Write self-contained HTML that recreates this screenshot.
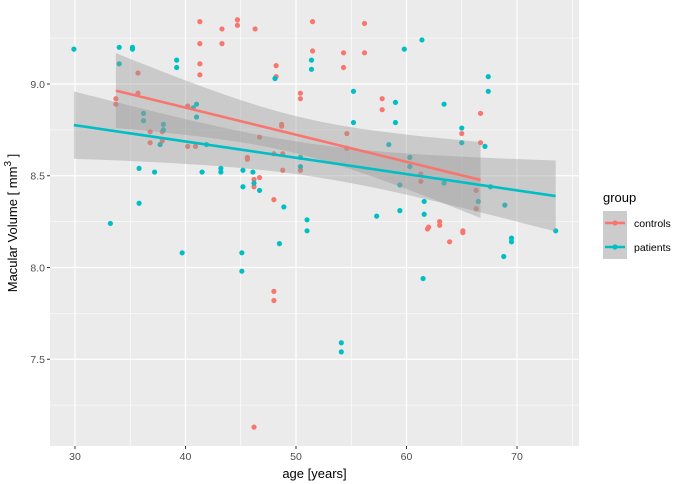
<!DOCTYPE html>
<html><head><meta charset="utf-8"><style>
body{margin:0;background:#fff;}
svg{display:block;font-family:"Liberation Sans",sans-serif;}
</style></head><body>
<svg id="chart" width="676" height="484"></svg>
<script>
const ctrlAge=[41.3,41.3,41.3,41.3,43.3,43.3,44.7,44.7,46.3,51.5,51.5,48.2,48.2,35.7,35.7,33.7,33.7,50.4,50.4,40.2,36.8,36.8,37.9,37.9,40.2,40.9,45.6,45.6,46.7,48.7,48.7,48.0,48.8,48.8,50.4,46.2,46.2,46.7,48.0,56.2,54.3,56.2,54.3,57.8,57.8,54.6,54.6,66.7,65.0,66.7,61.3,61.3,66.3,66.3,63.0,63.0,62.0,61.9,65.1,63.9,65.1,48.0,48.0,46.2];
const ctrlVol=[9.34,9.22,9.11,9.05,9.30,9.22,9.35,9.32,9.30,9.34,9.18,9.10,9.04,9.06,8.95,8.92,8.89,8.95,8.92,8.88,8.74,8.68,8.74,8.69,8.66,8.66,8.60,8.59,8.71,8.78,8.77,8.62,8.62,8.53,8.53,8.48,8.44,8.49,8.37,9.33,9.17,9.17,9.09,8.92,8.86,8.73,8.65,8.84,8.73,8.68,8.51,8.47,8.42,8.32,8.25,8.23,8.22,8.21,8.20,8.14,8.19,7.87,7.82,7.13];
const patAge=[29.9,34.0,34.0,35.2,35.2,39.2,39.2,48.1,51.4,51.4,36.2,36.2,38.0,38.0,37.7,40.7,41.0,41.0,41.9,50.4,50.4,35.8,37.2,41.5,43.2,43.2,45.2,46.1,45.2,46.2,46.7,35.8,48.9,33.2,51.0,51.0,61.4,59.8,67.4,67.4,55.2,59.0,63.4,55.2,59.0,65.0,65.0,67.1,58.4,60.3,60.3,63.4,59.4,67.6,61.6,66.5,68.9,59.4,61.6,57.3,73.5,69.5,69.5,68.8,39.7,45.1,45.1,48.5,61.5,54.1,54.1];
const patVol=[9.19,9.20,9.11,9.20,9.19,9.13,9.09,9.03,9.13,9.08,8.84,8.80,8.78,8.75,8.67,8.87,8.89,8.82,8.67,8.60,8.55,8.54,8.52,8.52,8.54,8.52,8.53,8.52,8.44,8.46,8.42,8.35,8.33,8.24,8.26,8.20,9.24,9.19,9.04,8.96,8.96,8.90,8.89,8.79,8.79,8.76,8.68,8.66,8.67,8.60,8.55,8.46,8.45,8.44,8.36,8.36,8.34,8.31,8.29,8.28,8.20,8.16,8.14,8.06,8.08,8.08,7.98,8.13,7.94,7.59,7.54];
const xTicks=[30,40,50,60,70];
const yTicks=[7.5,8.0,8.5,9.0];
const xMinor=[35,45,55,65,75];
const yMinor=[7.25,7.75,8.25,8.75,9.25];

const NS="http://www.w3.org/2000/svg";
const svg=document.getElementById('chart');
const PL=50,PR=579,PT=0,PB=446;
const X=a=>75+(a-30)*11.05;
const Y=v=>84-(v-9)*183.5;
function mk(tag,attrs,parent){const e=document.createElementNS(NS,tag);for(const k in attrs)e.setAttribute(k,attrs[k]);(parent||svg).appendChild(e);return e;}

const panel=mk('rect',{x:PL,y:PT,width:PR-PL,height:PB-PT,fill:'#ebebeb'});


xMinor.forEach(t=>{const l=mk('line',{x1:X(t),x2:X(t),y1:PT,y2:PB,stroke:'#fff','stroke-width':0.6});});
yMinor.forEach(t=>{const l=mk('line',{x1:PL,x2:PR,y1:Y(t),y2:Y(t),stroke:'#fff','stroke-width':0.6});});
xTicks.forEach(t=>{const l=mk('line',{x1:X(t),x2:X(t),y1:PT,y2:PB,stroke:'#fff','stroke-width':1.2});
 const tk=mk('line',{x1:X(t),x2:X(t),y1:PB,y2:PB+3,stroke:'#333','stroke-width':1});
 const tx=mk('text',{x:X(t),y:PB+14,'text-anchor':'middle','font-size':10.5,fill:'#4d4d4d'});tx.textContent=t;});
yTicks.forEach(t=>{const l=mk('line',{x1:PL,x2:PR,y1:Y(t),y2:Y(t),stroke:'#fff','stroke-width':1.2});
 const tk=mk('line',{x1:PL-3,x2:PL,y1:Y(t),y2:Y(t),stroke:'#333','stroke-width':1});
 const tx=mk('text',{x:PL-5,y:Y(t)+3.8,'text-anchor':'end','font-size':10.5,fill:'#4d4d4d'});tx.textContent=t.toFixed(1);});

function fit(xs,ys){const n=xs.length;const mx=xs.reduce((a,b)=>a+b)/n,my=ys.reduce((a,b)=>a+b)/n;let sxx=0,sxy=0;for(let i=0;i<n;i++){sxx+=(xs[i]-mx)**2;sxy+=(xs[i]-mx)*(ys[i]-my);}const b=sxy/sxx,a=my-b*mx;let sse=0;for(let i=0;i<n;i++)sse+=(ys[i]-a-b*xs[i])**2;const s=Math.sqrt(sse/(n-2));return{a,b,s,n,mx,sxx,min:Math.min(...xs),max:Math.max(...xs)};}
const groups=[{name:'controls',ax:ctrlAge,vy:ctrlVol,col:'#f8766d'},{name:'patients',ax:patAge,vy:patVol,col:'#00bfc4'}];
const fits=groups.map(g=>fit(g.ax,g.vy));
// points
groups.forEach(g=>{g.ax.forEach((a,i)=>{const c=mk('circle',{cx:X(a),cy:Y(g.vy[i]),r:2.6,fill:g.col});});});
// ribbons
groups.forEach((g,k)=>{const f=fits[k];const N=40;let up=[],lo=[];for(let j=0;j<=N;j++){const x=f.min+(f.max-f.min)*j/N;const yh=f.a+f.b*x;const se=f.s*Math.sqrt(1/f.n+(x-f.mx)**2/f.sxx);up.push([X(x),Y(yh+1.99*se)]);lo.push([X(x),Y(yh-1.99*se)]);}
 const pts=up.concat(lo.reverse()).map(p=>p.join(',')).join(' ');
 const r=mk('polygon',{points:pts,fill:'#999999','fill-opacity':0.4});});
groups.forEach((g,k)=>{const f=fits[k];const l=mk('line',{x1:X(f.min),y1:Y(f.a+f.b*f.min),x2:X(f.max),y2:Y(f.a+f.b*f.max),stroke:g.col,'stroke-width':2.6});});
// titles
const xt=mk('text',{x:(PL+PR)/2,y:478,'text-anchor':'middle','font-size':13,fill:'#000'});xt.textContent='age [years]';
const yt=mk('text',{x:0,y:0,'text-anchor':'middle','font-size':13,fill:'#000',transform:'translate(17,223) rotate(-90)'});yt.innerHTML='Macular Volume [ mm<tspan dy="-6" font-size="10">3</tspan><tspan dy="6"> ]</tspan>';
// legend
const lg=mk('g',{});
const lt=mk('text',{x:603,y:202,'font-size':13,fill:'#000'},lg);lt.textContent='group';
groups.forEach((g,k)=>{const y=222+k*24;
 const bx=mk('rect',{x:603,y:y-11,width:24,height:24,fill:'#cccccc'},lg);
 const ln=mk('line',{x1:605,x2:625,y1:y+1,y2:y+1,stroke:g.col,'stroke-width':2.6},lg);
 const c=mk('circle',{cx:615,cy:y+1,r:2.6,fill:g.col},lg);
 const t=mk('text',{x:634,y:y+5,'font-size':10.5,fill:'#000'},lg);t.textContent=g.name;});
</script>
</body></html>
